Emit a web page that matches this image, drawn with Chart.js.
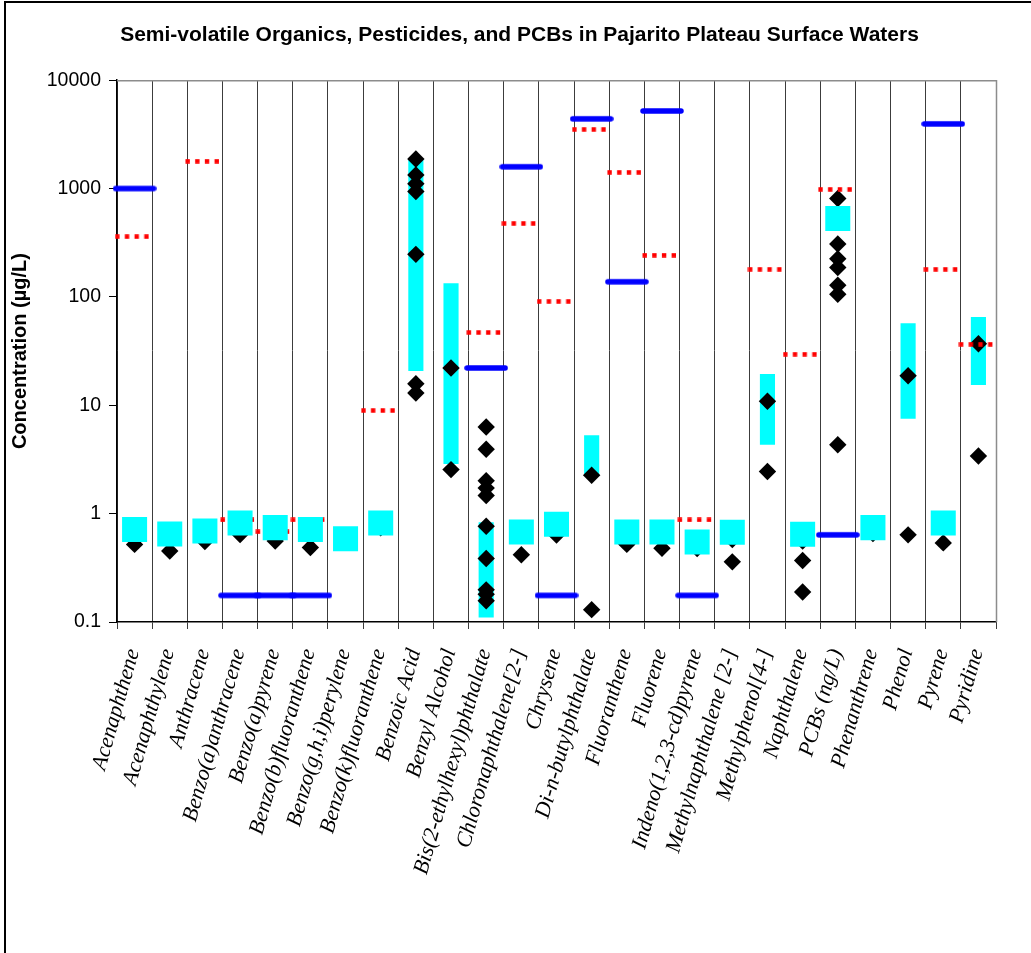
<!DOCTYPE html>
<html>
<head>
<meta charset="utf-8">
<script src="https://cdn.jsdelivr.net/npm/chart.js@4.4.1/dist/chart.umd.min.js"></script>
<style>
  html, body { margin: 0; padding: 0; background: #fff; }
  #wrap { position: relative; width: 1031px; height: 953px; overflow: hidden; }
  #frame { position: absolute; left: 4px; top: 1px; width: 1200px; height: 1200px; border: 2px solid #000; pointer-events: none; }
  canvas { position: absolute; left: 0; top: 0; }
</style>
</head>
<body>
<div id="wrap">
  <canvas id="myChart" width="1031" height="953"></canvas>
  <div id="frame"></div>
</div>
<script>
// chemicals along the x axis
var names = ['Acenaphthene', 'Acenaphthylene', 'Anthracene', 'Benzo(a)anthracene', 'Benzo(a)pyrene',
  'Benzo(b)fluoranthene', 'Benzo(g,h,i)perylene', 'Benzo(k)fluoranthene', 'Benzoic Acid', 'Benzyl Alcohol',
  'Bis(2-ethylhexyl)phthalate', 'Chloronaphthalene[2-]', 'Chrysene', 'Di-n-butylphthalate', 'Fluoranthene',
  'Fluorene', 'Indeno(1,2,3-cd)pyrene', 'Methylnaphthalene [2-]', 'Methylphenol[4-]', 'Naphthalene',
  'PCBs (ng/L)', 'Phenanthrene', 'Phenol', 'Pyrene', 'Pyridine'];

// cyan squares (single values)
var squares = [0.715, 0.648, 0.693, 0.821, 0.743, 0.715, 0.587, 0.821, null, null,
  null, 0.678, 0.80, null, 0.678, 0.678, 0.547, 0.673, null, 0.645,
  530, 0.743, null, 0.821, null];

// cyan ranges [low, high]
var ranges = [null, null, null, null, null, null, null, null, [20.7, 1875], [2.87, 134],
  [0.11, 0.835], null, null, [2.26, 5.3], null, null, null, null, [4.32, 19.4], null,
  null, null, [7.53, 57.3], null, [15.4, 65.4]];

// black diamonds, several per chemical
var detects = [
  [0.52], [0.452], [0.553], [0.641], [0.558], [0.487], [], [0.74],
  [1875, 1337, 1107, 940, 247, 15.8, 13],
  [22.1, 2.55],
  [6.3, 3.93, 2.01, 1.72, 1.47, 0.766, 0.386, 0.198, 0.18, 0.157],
  [0.418], [0.634], [2.26, 0.13], [0.52], [0.48], [0.476], [0.577, 0.359],
  [10.9, 2.45], [0.558, 0.37, 0.189],
  [809, 308, 225, 187, 128, 106, 4.32],
  [0.655], [18.7, 0.637], [0.537], [37, 3.4]
];

// blue solid standard
var blueStd = [1000, null, null, 0.176, 0.176, 0.176, null, null, null, null,
  22.1, 1589, 0.176, 4400, 138, 5200, 0.176, null, null, null,
  0.637, null, null, 3950, null];

// red dotted standard
var redStd = [360, null, 1790, 0.875, 0.679, 0.875, null, 8.96, null, null,
  47, 477, 91, 3515, 1413, 243, 0.875, null, 180, 29.6,
  984, null, null, 180, 36.6];

var yTicks = [0.1, 1, 10, 100, 1000, 10000];

// flatten diamonds into {x, y} points
var detectPts = [];
for (var i = 0; i < names.length; i++) {
  for (var j = 0; j < detects[i].length; j++) {
    detectPts.push({ x: names[i], y: detects[i][j] });
  }
}

// marker images for the standard lines
function blueDash() {
  var c = document.createElement('canvas');
  c.width = 44; c.height = 8;
  var g = c.getContext('2d');
  g.strokeStyle = '#0000ff';
  g.lineWidth = 5.5;
  g.lineCap = 'round';
  g.beginPath();
  g.moveTo(3, 4); g.lineTo(41, 4);
  g.stroke();
  return c;
}
function redDots() {
  var c = document.createElement('canvas');
  c.width = 40; c.height = 5;
  var g = c.getContext('2d');
  g.fillStyle = '#ff0000';
  for (var k = 0; k < 4; k++) {
    g.fillRect(0.5 + k * 9.7, 0.25, 4.4, 4.5);
  }
  return c;
}

var plotFrame = {
  id: 'plotFrame',
  afterDatasetsDraw: function(chart) {
    var a = chart.chartArea, ctx = chart.ctx;
    ctx.save();
    ctx.strokeStyle = '#8c8c8c';
    ctx.lineWidth = 1.5;
    ctx.beginPath();
    ctx.moveTo(a.left, a.top + 0.5);
    ctx.lineTo(a.right + 0.5, a.top + 0.5);
    ctx.lineTo(a.right + 0.5, a.bottom);
    ctx.stroke();
    ctx.restore();
  }
};

Chart.defaults.font.family = '"Liberation Sans", Arial, sans-serif';
Chart.defaults.color = '#000';

var ctx = document.getElementById('myChart').getContext('2d');
var chart = new Chart(ctx, {
  type: 'bar',
  data: {
    labels: names,
    datasets: [{
      type: 'line',
      label: 'single',
      data: squares,
      showLine: false,
      pointStyle: 'rect',
      pointRadius: 17.7,
      pointBackgroundColor: '#00ffff',
      pointBorderWidth: 0,
      pointBorderColor: '#00ffff',
      order: 0
    }, {
      type: 'line',
      label: 'blue standard',
      data: blueStd,
      showLine: false,
      pointStyle: blueDash(),
      pointRadius: 10,
      order: 1
    }, {
      type: 'line',
      label: 'red standard',
      data: redStd,
      showLine: false,
      pointStyle: redDots(),
      pointRadius: 10,
      order: 2
    }, {
      type: 'line',
      label: 'detects',
      data: detectPts,
      showLine: false,
      pointStyle: 'rectRot',
      pointRadius: 8.7,
      pointBackgroundColor: '#000',
      pointBorderWidth: 0,
      pointBorderColor: '#000',
      order: 3
    }, {
      label: 'range',
      data: ranges,
      backgroundColor: '#00ffff',
      borderWidth: 0,
      categoryPercentage: 1,
      barPercentage: 0.43,
      order: 4
    }]
  },
  plugins: [plotFrame],
  options: {
    responsive: false,
    animation: false,
    devicePixelRatio: 1,
    layout: { padding: { left: 8, right: 0, top: 0, bottom: 0 } },
    plugins: {
      legend: { display: false },
      tooltip: { enabled: false },
      title: {
        display: true,
        text: 'Semi-volatile Organics, Pesticides, and PCBs in Pajarito Plateau Surface Waters',
        font: { size: 21, weight: 'bold' },
        color: '#000',
        padding: { top: 23, bottom: 32 }
      }
    },
    scales: {
      x: {
        offset: true,
        grid: { offset: true, color: '#3c3c3c', lineWidth: 1, tickLength: 7, drawTicks: true },
        border: { color: '#000', width: 1.5 },
        ticks: {
          autoSkip: false,
          minRotation: 74,
          maxRotation: 74,
          padding: 17,
          labelOffset: -1,
          font: { family: '"Liberation Serif", "Times New Roman", serif', style: 'italic', size: 22 },
          color: '#000'
        },
        afterFit: function(scale) { scale.height = 331; }
      },
      y: {
        type: 'logarithmic',
        min: 0.1,
        max: 10000,
        afterBuildTicks: function(scale) {
          scale.ticks = yTicks.map(function(v) { return { value: v }; });
        },
        grid: { drawOnChartArea: false, color: '#000', tickLength: 8 },
        border: { color: '#000', width: 1.5 },
        ticks: {
          font: { size: 19.5 },
          color: '#000',
          padding: 8,
          callback: function(v) { return String(v); }
        },
        title: {
          display: true,
          text: 'Concentration (µg/L)',
          font: { size: 20, weight: 'bold' },
          color: '#000',
          padding: { top: 0, bottom: 0 }
        },
        afterFit: function(scale) { scale.width = 109; }
      },
      // empty right-hand strip so the plot stops where the original does
      yRight: {
        type: 'linear',
        position: 'right',
        display: true,
        grid: { display: false },
        border: { display: false },
        ticks: { display: false },
        afterFit: function(scale) { scale.width = 35; }
      }
    }
  }
});
</script>
</body>
</html>
